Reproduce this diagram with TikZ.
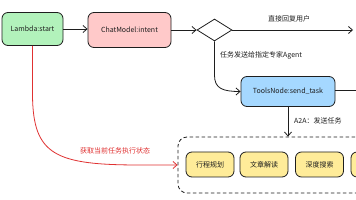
\documentclass[tikz,border=0pt]{standalone}
\usepackage{fontspec}
\setmainfont{Noto Sans CJK SC}
\usetikzlibrary{arrows.meta,shapes.geometric}
\definecolor{ink}{HTML}{1E1E1E}
\definecolor{gfill}{HTML}{B2F2BB}
\definecolor{pfill}{HTML}{FFC9C9}
\definecolor{bfill}{HTML}{A5D8FF}
\definecolor{yfill}{HTML}{FFEC99}
\definecolor{redline}{HTML}{E03131}
\begin{document}
\begin{tikzpicture}[x=1pt,y=-1pt,
  font=\fontsize{7}{8}\selectfont,
  box/.style={draw=ink, line width=0.8pt, rounded corners=6pt, inner sep=0pt, text=ink},
  conn/.style={draw=ink, line width=0.8pt, -{Straight Barb[length=4pt,width=7pt]}},
  redconn/.style={draw=redline, line width=0.8pt, -{Straight Barb[length=4pt,width=7pt]}},
  lbl/.style={text=ink, inner sep=0pt},
  rlbl/.style={text=redline, inner sep=0pt}]
\useasboundingbox (0,0) rectangle (356,200);
\clip (0,0) rectangle (356,200);
\fill[white] (0,0) rectangle (356,200);

\node[box, fill=gfill, minimum width=61pt, minimum height=33pt] (lam) at (32.5,29) {Lambda:start};
\node[box, fill=pfill, minimum width=83pt, minimum height=35pt] (chat) at (129.5,30) {ChatModel:intent};
\node[draw=ink, line width=0.8pt, diamond, minimum width=35pt, minimum height=22pt, inner sep=0pt] (dia) at (214.5,30) {};
\node[box, fill=bfill, minimum width=94pt, minimum height=30pt] (tools) at (288,91.5) {ToolsNode:send\_task};

\node[draw=ink, line width=0.8pt, dashed, dash pattern=on 3.5pt off 2.5pt, rounded corners=9pt, minimum width=252pt, minimum height=56pt, inner sep=0pt] (grp) at (304,165) {};
\node[box, fill=yfill, minimum width=48pt, minimum height=25pt] (b1) at (210,164.5) {行程规划};
\node[box, fill=yfill, minimum width=48pt, minimum height=25pt] (b2) at (264,164.5) {文章解读};
\node[box, fill=yfill, minimum width=48pt, minimum height=25pt] (b3) at (319.5,164.5) {深度搜索};
\node[box, fill=yfill, minimum width=48pt, minimum height=25pt] (b4) at (375,164.5) {};

\coordinate (out) at (353,30);
\coordinate (toolsout) at (370,90.5);
\coordinate (rbend) at (32.5,95);
\coordinate (rflat) at (140,165);

\draw[conn] (lam.east) -- (lam.east -| chat.west);
\draw[conn] (chat.east) -- (dia.west);
\draw[conn] (dia.east) -- (out);
\node[lbl] (l1) at (289,19) {直接回复用户};
\draw[conn] (dia.south) -- ++(0,34) .. controls +(0,13) and +(-18,0) .. (tools.west);
\node[lbl, anchor=west] (l2) at (220,55) {任务发送给指定专家Agent};
\draw[ink, line width=0.8pt] (tools.east |- toolsout) -- (toolsout);
\draw[conn] (tools.south) -- (tools.south |- grp.north);
\node[lbl, anchor=west] (l3) at (294,121) {A2A：发送任务};
\draw[redconn] (lam.south) -- (rbend) .. controls (33,155) and (55,165) .. (rflat) -- (grp.west);
\node[rlbl] (l4) at (115,151) {获取当前任务执行状态};
\end{tikzpicture}
\end{document}
